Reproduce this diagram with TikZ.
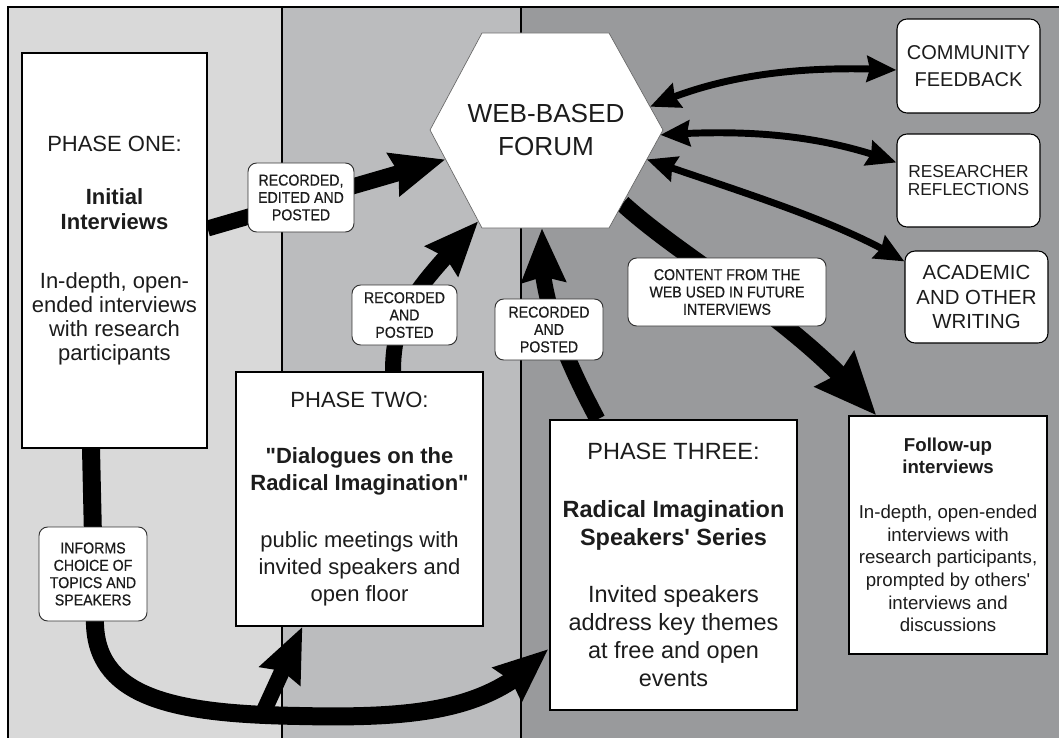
\documentclass[tikz,border=0pt]{standalone}
\usepackage{fontspec}
\setmainfont{Liberation Sans}
% plain family without TeX ligatures, so quotes stay straight
\newfontfamily\basefont{Liberation Sans}
\newfontfamily\tagfont[FakeStretch=0.9,FakeBold=0.5]{Liberation Sans}
\usetikzlibrary{arrows.meta,bending,calc}

\pgfdeclarelayer{panels}
\pgfdeclarelayer{flows}
\pgfsetlayers{panels,flows,main}

\definecolor{panelA}{RGB}{217,217,217}
\definecolor{panelB}{RGB}{187,188,190}
\definecolor{panelC}{RGB}{153,154,156}
\definecolor{ink}{RGB}{28,28,28}

\tikzset{
  phasebox/.style={draw=black, line width=0.9pt, fill=white, align=center,
    text=ink, inner sep=0pt},
  outbox/.style={draw=black, line width=0.8pt, fill=white, rounded corners=7.5pt,
    align=center, text=ink, inner sep=0pt},
  tagbox/.style={draw=black!80, line width=0.7pt, fill=white, rounded corners=6.5pt,
    align=center, text=ink, inner sep=0pt,
    font=\tagfont\fontsize{11.8}{13}\selectfont},
  flow/.style={draw=black, line width=12pt,
    -{Stealth[length=40pt,width=32pt,inset=3.5pt]}},
  bigflow/.style={draw=black, line width=13pt,
    -{Stealth[length=46pt,width=38pt,inset=4pt]}},
  twoway/.style={draw=black, line width=5.2pt,
    {Stealth[length=22pt,width=19pt,inset=2pt]}-{Stealth[length=22pt,width=19pt,inset=2pt]}},
}

\begin{document}
\begin{tikzpicture}[x=0.75pt,y=-0.75pt]
\useasboundingbox (0,0) rectangle (1059,738);

% the three phase panels
\begin{pgfonlayer}{panels}
  \fill[white] (0,0) rectangle (1059,738);
  \fill[panelA] (8,7) rectangle (282,738);
  \fill[panelB] (282,7) rectangle (521,738);
  \fill[panelC] (521,7) rectangle (1059,738);
  \draw[line width=1.1pt] (8,738) -- (8,7) -- (1059,7);
  \draw[line width=0.9pt] (282,7) -- (282,738);
  \draw[line width=0.9pt] (521,7) -- (521,738);
\end{pgfonlayer}

% web-based forum hexagon
\coordinate (hL)  at (430,130);
\coordinate (hTL) at (482,33);
\coordinate (hTR) at (609,33);
\coordinate (hR)  at (663,130);
\coordinate (hBR) at (609,228);
\coordinate (hBL) at (482,228);
\fill[white] (hL) -- (hTL) -- (hTR) -- (hR) -- (hBR) -- (hBL) -- cycle;
\draw[black!60, line width=0.5pt] (hL) -- (hTL) -- (hTR) -- (hR) -- (hBR) -- (hBL) -- cycle;
\node[align=center, text=ink, font=\basefont\fontsize{19.6}{24.75}\selectfont]
  (forum) at (546,130) {WEB-BASED\\FORUM};

% phase boxes
\node[phasebox, minimum width=185*0.75pt, minimum height=395*0.75pt,
  font=\basefont\fontsize{16.5}{18}\selectfont] (p1) at (114.5,250.5)
  {PHASE ONE:\\[22pt]
   \textbf{Initial}\\[1pt]
   \textbf{Interviews}\\[26pt]
   In-depth, open-\\ended interviews\\with research\\participants};

\node[phasebox, minimum width=247*0.75pt, minimum height=254*0.75pt,
  font=\basefont\fontsize{16.5}{20}\selectfont] (p2) at (359.5,499)
  {PHASE TWO:\\[22pt]
   \textbf{"Dialogues on the}\\\textbf{Radical Imagination"}\\[23pt]
   public meetings with\\invited speakers and\\open floor};

\node[phasebox, minimum width=247*0.75pt, minimum height=290*0.75pt,
  font=\basefont\fontsize{17.6}{21}\selectfont] (p3) at (673.5,565)
  {PHASE THREE:\\[22pt]
   \textbf{Radical Imagination}\\\textbf{Speakers' Series}\\[22pt]
   Invited speakers\\address key themes\\at free and open\\events};

\node[phasebox, minimum width=198*0.75pt, minimum height=238*0.75pt,
  font=\basefont\fontsize{14}{17}\selectfont] (fu) at (948,535)
  {\textbf{Follow-up}\\[-1pt]\textbf{interviews}\\[17pt]
   In-depth, open-ended\\interviews with\\research participants,\\
   prompted by others'\\interviews and\\discussions};

% outputs of the forum
\node[outbox, minimum width=143*0.75pt, minimum height=94*0.75pt,
  font=\basefont\fontsize{15}{20}\selectfont] (cf) at (968.5,66)
  {COMMUNITY\\FEEDBACK};
\node[outbox, minimum width=143*0.75pt, minimum height=93*0.75pt,
  font=\basefont\fontsize{13}{13.5}\selectfont] (rr) at (968.5,180.5)
  {RESEARCHER\\REFLECTIONS};
\node[outbox, minimum width=143*0.75pt, minimum height=92*0.75pt,
  font=\basefont\fontsize{15.3}{18.4}\selectfont] (ac) at (976.5,297)
  {ACADEMIC\\AND OTHER\\WRITING};

% connector labels
\node[tagbox, minimum width=106*0.75pt, minimum height=69*0.75pt] (t1) at (301,197.5)
  {RECORDED,\\EDITED AND\\POSTED};
\node[tagbox, minimum width=105*0.75pt, minimum height=60*0.75pt] (t2) at (404.5,315)
  {RECORDED\\AND\\POSTED};
\node[tagbox, minimum width=108*0.75pt, minimum height=61*0.75pt] (t3) at (549,329.5)
  {RECORDED\\AND\\POSTED};
\node[tagbox, minimum width=198*0.75pt, minimum height=68*0.75pt] (t4) at (727,292)
  {CONTENT FROM THE\\WEB USED IN FUTURE\\INTERVIEWS};
\node[tagbox, minimum width=108*0.75pt, minimum height=94*0.75pt] (t5) at (93,574)
  {INFORMS\\CHOICE OF\\TOPICS AND\\SPEAKERS};

% flows between phases, forum and outputs
\coordinate (fork) at (262,715);
\begin{pgfonlayer}{flows}
  \draw[flow] ($(p1.east)+(0,-22)$) -- ($(hL)!0.3!(hBL)$);
  \draw[flow] ($(p2.north)+(33.5,0)$) .. controls +(0,-62) and (420,285)
    .. ($(hL)!0.93!(hBL)$);
  \draw[flow] ($(p3.north)+(-76,0)$) .. controls +(-32,-60) and (535,290)
    .. ($(hBL)!0.472!(hBR)$);
  \draw[bigflow] ($(hR)!0.75!(hBR)$) .. controls (690,265) and (800,320)
    .. ($(fu.north west)+(28,0)$);
  \draw[twoway] ($(hTR)!0.76!(hR)$) .. controls (720,75) and (800,65)
    .. ($(cf.west)+(0,4)$);
  \draw[twoway] ($(hR)!0.05!(hBR)$) .. controls (760,128) and (830,138)
    .. ($(rr.west)+(0,-18)$);
  \draw[twoway] ($(hR)!0.3!(hBR)$) .. controls (750,195) and (840,222)
    .. ($(ac.north west)+(0,11)$);
  \draw[flow, line width=13.5pt] ($(p1.south)+(-23.5,0)$) -- (95,625)
    .. controls (98,700) and (180,714) .. (300,716)
    .. controls (430,719) and (495,707) .. ($(p3.west)+(-1,84)$);
  \draw[flow] (fork) -- ($(p2.south)+(-57,0)$);
\end{pgfonlayer}
\end{tikzpicture}
\end{document}
